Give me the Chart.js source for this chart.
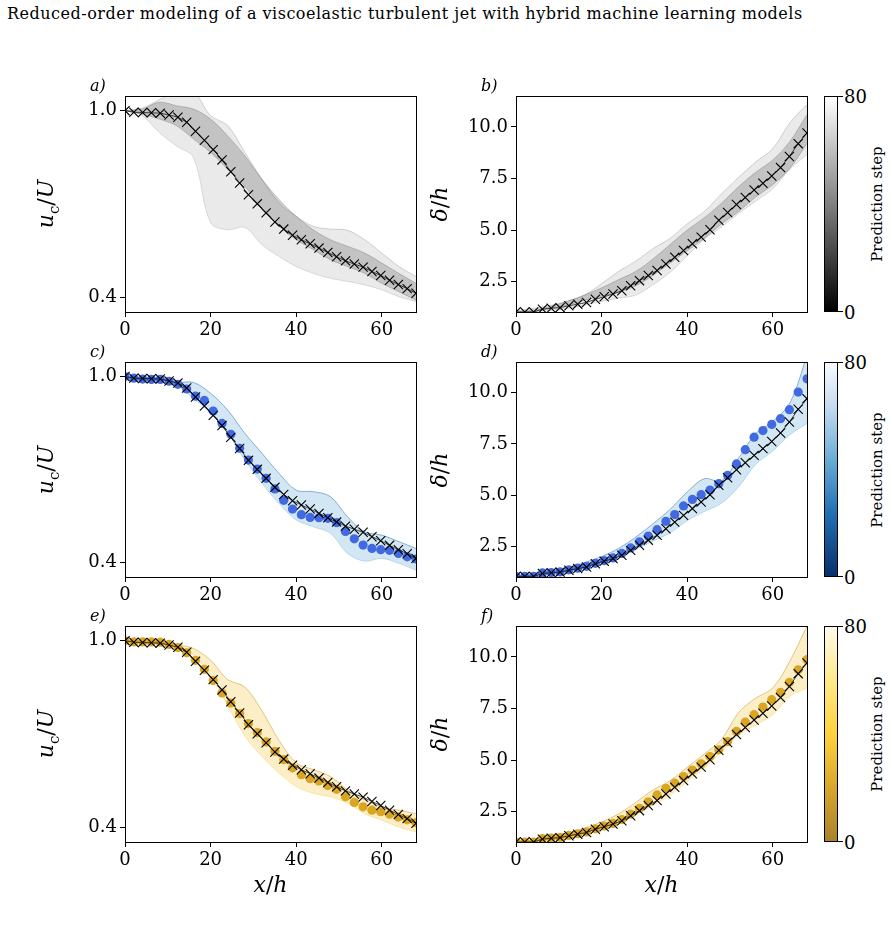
<!DOCTYPE html>
<html>
<head>
<meta charset="utf-8">
<script src="https://cdn.jsdelivr.net/npm/chart.js@4.4.0/dist/chart.umd.min.js"></script>
<style>
    body { margin: 0; width: 893px; height: 930px; background: #fff; position: relative; overflow: hidden; font-family: "DejaVu Serif", serif; color: #000; }
    canvas { position: absolute; }
    .txt { position: absolute; white-space: nowrap; }
    .title { left: 7px; top: 4px; font-size: 16px; letter-spacing: 0.5px; }
    .letter { font-style: italic; font-size: 16px; }
    .ylab { font-size: 22px; transform: translate(-50%, -50%) rotate(-90deg); }
    .xlab { font-size: 22px; transform: translateX(-50%); }
    .cbar { position: absolute; width: 12px; border: 1px solid #000; }
    .cbtick { position: absolute; width: 5px; height: 1px; background: #000; }
    .cbnum { position: absolute; font-size: 18px; transform: translateY(-50%); }
    .cblab { font-size: 15px; transform: translate(-50%, -50%) rotate(-90deg); }
</style>
</head>
<body>
<div class="txt title">Reduced-order modeling of a viscoelastic turbulent jet with hybrid machine learning models</div>
<div id="stage"></div>
<script>
// x positions of the 34 streamwise stations (x/h)
const xStations = [0, 2.06, 4.12, 6.18, 8.24, 10.3, 12.36, 14.42, 16.48, 18.55, 20.61, 22.67, 24.73, 26.79, 28.85, 30.91, 32.97,
    35.03, 37.09, 39.15, 41.21, 43.27, 45.33, 47.39, 49.45, 51.52, 53.58, 55.64, 57.7, 59.76, 61.82, 63.88, 65.94, 68.0];

// centreline velocity u_c/U
const ucTruth = [1.0, 0.995, 0.994, 0.993, 0.992, 0.986, 0.979, 0.963, 0.934, 0.905, 0.875, 0.842, 0.804, 0.768, 0.730, 0.701, 0.672,
    0.643, 0.620, 0.600, 0.586, 0.573, 0.559, 0.545, 0.531, 0.518, 0.508, 0.498, 0.484, 0.471, 0.456, 0.442, 0.429, 0.414];
const ucBlue = [1.0, 0.995, 0.992, 0.991, 0.991, 0.985, 0.975, 0.960, 0.937, 0.923, 0.889, 0.849, 0.814, 0.769, 0.731, 0.702, 0.672,
    0.638, 0.601, 0.573, 0.555, 0.546, 0.545, 0.543, 0.529, 0.501, 0.477, 0.457, 0.446, 0.442, 0.440, 0.430, 0.419, 0.412];
const ucGold = [1.0, 0.996, 0.996, 0.996, 0.995, 0.988, 0.978, 0.961, 0.937, 0.908, 0.872, 0.832, 0.800, 0.766, 0.734, 0.705, 0.675,
    0.645, 0.618, 0.592, 0.570, 0.557, 0.550, 0.535, 0.523, 0.499, 0.481, 0.467, 0.456, 0.451, 0.443, 0.434, 0.425, 0.416];

// jet half-width delta/h
const deltaTruth = [1.03, 1.03, 1.03, 1.17, 1.21, 1.24, 1.33, 1.41, 1.49, 1.65, 1.77, 1.90, 2.06, 2.30, 2.55, 2.80, 3.04,
    3.36, 3.68, 4.01, 4.34, 4.66, 5.02, 5.48, 5.85, 6.24, 6.58, 6.94, 7.27, 7.62, 8.03, 8.57, 9.19, 9.71];
const deltaBlue = [1.03, 1.03, 1.03, 1.20, 1.22, 1.25, 1.35, 1.43, 1.52, 1.67, 1.80, 1.93, 2.15, 2.42, 2.72, 3.00, 3.31,
    3.72, 4.05, 4.47, 4.79, 5.02, 5.25, 5.56, 5.96, 6.52, 7.22, 7.83, 8.15, 8.45, 8.73, 9.17, 10.03, 10.68];
const deltaGold = [1.03, 1.03, 1.03, 1.20, 1.22, 1.25, 1.35, 1.43, 1.52, 1.67, 1.80, 1.93, 2.12, 2.38, 2.66, 2.98, 3.31,
    3.63, 3.88, 4.20, 4.52, 4.82, 5.17, 5.50, 5.90, 6.39, 6.84, 7.20, 7.57, 7.93, 8.28, 8.77, 9.38, 9.87];

// envelopes of the prediction ensembles, sampled every 4 h
const envX = [0, 4, 8, 12, 16, 20, 24, 28, 32, 36, 40, 44, 48, 52, 56, 60, 64, 68];
const aUp = [1.0, 1.008, 1.035, 1.06, 1.06, 0.984, 0.952, 0.866, 0.78, 0.704, 0.661, 0.629, 0.62, 0.616, 0.586, 0.543, 0.5, 0.468];
const aLo = [1.0, 0.984, 0.93, 0.887, 0.849, 0.64, 0.618, 0.625, 0.57, 0.532, 0.5, 0.478, 0.462, 0.452, 0.441, 0.425, 0.403, 0.387];
const aCoreUp = [1.0, 1.005, 1.027, 1.016, 1.005, 0.973, 0.919, 0.855, 0.78, 0.715, 0.661, 0.618, 0.586, 0.565, 0.543, 0.511, 0.478, 0.446];
const aCoreLo = [1.0, 0.989, 0.973, 0.952, 0.909, 0.866, 0.812, 0.758, 0.683, 0.629, 0.586, 0.554, 0.522, 0.5, 0.478, 0.446, 0.419, 0.392];
const bUp = [1.1, 1.2, 1.35, 1.55, 1.85, 2.4, 3.0, 3.5, 4.1, 4.6, 5.3, 5.9, 6.75, 7.55, 8.3, 8.95, 10.2, 11.1];
const bLo = [1.02, 1.05, 1.1, 1.2, 1.35, 1.55, 1.7, 1.85, 2.35, 2.95, 3.75, 4.55, 5.15, 5.8, 6.4, 7.0, 7.95, 8.66];
const bCoreUp = [1.05, 1.12, 1.3, 1.55, 1.85, 2.2, 2.6, 3.0, 3.6, 4.3, 5.0, 5.6, 6.3, 7.1, 7.8, 8.4, 9.3, 10.6];
const bCoreLo = [1.0, 1.05, 1.2, 1.35, 1.6, 1.8, 2.0, 2.3, 2.8, 3.4, 4.0, 4.6, 5.3, 5.9, 6.6, 7.2, 8.0, 9.2];
const cUp = [1.0, 0.995, 0.992, 0.981, 0.981, 0.946, 0.892, 0.817, 0.753, 0.688, 0.634, 0.629, 0.613, 0.548, 0.5, 0.489, 0.468, 0.446];
const cLo = [1.0, 0.995, 0.992, 0.973, 0.93, 0.882, 0.817, 0.731, 0.656, 0.591, 0.538, 0.516, 0.495, 0.43, 0.405, 0.414, 0.398, 0.376];
const dUp = [1.06, 1.1, 1.3, 1.45, 1.7, 2.0, 2.4, 2.95, 3.6, 4.3, 5.15, 5.8, 5.7, 6.8, 8.0, 8.6, 9.5, 11.8];
const dLo = [1.0, 1.02, 1.18, 1.3, 1.5, 1.75, 2.0, 2.35, 2.75, 3.15, 3.75, 4.2, 4.6, 5.4, 6.5, 7.15, 7.95, 8.5];
const eUp = [1.0, 0.996, 0.995, 0.986, 0.975, 0.937, 0.875, 0.851, 0.775, 0.68, 0.608, 0.586, 0.564, 0.521, 0.489, 0.467, 0.456, 0.445];
const eLo = [1.0, 0.996, 0.995, 0.984, 0.954, 0.889, 0.791, 0.694, 0.629, 0.575, 0.532, 0.51, 0.499, 0.478, 0.445, 0.424, 0.402, 0.386];
const fUp = [1.06, 1.1, 1.3, 1.45, 1.7, 2.0, 2.4, 2.95, 3.55, 4.0, 4.65, 5.3, 6.0, 7.3, 8.0, 8.5, 9.8, 11.5];
const fLo = [1.0, 1.02, 1.18, 1.3, 1.5, 1.75, 2.0, 2.35, 2.8, 3.3, 3.95, 4.6, 5.4, 6.2, 6.7, 7.2, 8.1, 8.5];

const xTicks = [0, 20, 40, 60];
const ucTicks = [0.4, 1.0];
const deltaTicks = [2.5, 5.0, 7.5, 10.0];
const colorbarTicks = [0, 80];

// layout (pixels)
const rows = [[96, 312], [362, 577], [626, 842]];
const cols = [[125, 416], [516, 807]];
const AXW = 70, AXH = 35, PADT = 10, PADR = 8;
const stage = document.getElementById('stage');

const frame = {
    id: 'frame',
    afterDraw(chart) {
        const a = chart.chartArea;
        const ctx = chart.ctx;
        ctx.save();
        ctx.strokeStyle = '#000';
        ctx.lineWidth = 1;
        ctx.strokeRect(Math.round(a.left) + 0.5, Math.round(a.top) + 0.5, Math.round(a.right - a.left), Math.round(a.bottom - a.top));
        ctx.restore();
    }
};

function pts(xs, ys) {
    return xs.map((x, i) => ({ x: x, y: ys[i] }));
}

function bandSets(up, lo, fillColor, upColor, loColor, order) {
    return [
        { data: pts(envX, up), fill: '+1', backgroundColor: fillColor, borderColor: upColor, borderWidth: 1,
          pointRadius: 0, tension: 0.35, order: order },
        { data: pts(envX, lo), fill: false, borderColor: loColor, borderWidth: 1,
          pointRadius: 0, tension: 0.35, order: order + 1 }
    ];
}

function addText(cls, html, left, top) {
    const d = document.createElement('div');
    d.className = 'txt ' + cls;
    d.innerHTML = html;
    d.style.left = left + 'px';
    d.style.top = top + 'px';
    stage.appendChild(d);
    return d;
}

// keep the plot box exactly where it belongs: no extra room for edge labels
function noPad(s) {
    s.paddingTop = 0;
    s.paddingBottom = 0;
    s.paddingLeft = 0;
    s.paddingRight = 0;
}

function makePanel(row, col, cfg) {
    const [top, bottom] = rows[row];
    const [left, right] = cols[col];
    const canvas = document.createElement('canvas');
    const w = right - left + AXW + PADR;
    const h = bottom - top + PADT + AXH;
    canvas.width = w;
    canvas.height = h;
    canvas.style.left = (left - AXW) + 'px';
    canvas.style.top = (top - PADT) + 'px';
    canvas.style.width = w + 'px';
    canvas.style.height = h + 'px';
    stage.appendChild(canvas);

    const datasets = [];
    datasets.push({ data: pts(xStations, cfg.truth), borderColor: '#000', borderWidth: 0.7, pointStyle: 'crossRot',
        pointRadius: 6.5, pointBorderWidth: 1.1, pointBorderColor: '#000', pointBackgroundColor: '#000', fill: false, order: 0 });
    if (cfg.dots) {
        datasets.push({ data: pts(xStations, cfg.dots), showLine: false, pointRadius: 4.6, borderWidth: 0,
            pointBackgroundColor: cfg.dotColor, backgroundColor: cfg.dotColor, order: 1 });
    }
    cfg.bands.forEach(b => datasets.push(...b));

    const tickFont = { family: "'DejaVu Serif'", size: 18 };
    new Chart(canvas.getContext('2d'), {
        type: 'line',
        data: { datasets: datasets },
        options: {
            responsive: false,
            animation: false,
            devicePixelRatio: 1,
            layout: { padding: { top: PADT, right: PADR, left: 0, bottom: 0 } },
            plugins: { legend: { display: false }, tooltip: { enabled: false } },
            scales: {
                x: {
                    type: 'linear', min: 0, max: 68,
                    afterFit: s => { s.height = AXH; noPad(s); },
                    afterBuildTicks: s => { s.ticks = xTicks.map(v => ({ value: v })); },
                    ticks: { font: tickFont, color: '#000', padding: 3, maxRotation: 0, callback: v => String(v) },
                    grid: { drawOnChartArea: false, drawTicks: true, tickLength: 5, tickColor: '#000' },
                    border: { display: true, color: '#000', width: 1 }
                },
                y: {
                    type: 'linear', min: cfg.ymin, max: cfg.ymax,
                    afterFit: s => { s.width = AXW; noPad(s); },
                    afterBuildTicks: s => { s.ticks = cfg.yTicks.map(v => ({ value: v })); },
                    ticks: { font: tickFont, color: '#000', padding: 3, callback: v => v.toFixed(1) },
                    grid: { drawOnChartArea: false, drawTicks: true, tickLength: 5, tickColor: '#000' },
                    border: { display: true, color: '#000', width: 1 }
                }
            }
        },
        plugins: [frame]
    });

    addText('letter', cfg.letter, left - 35, top - 20);
    addText('ylab', cfg.ylabel, left - 77, (top + bottom) / 2);
    if (row === 2) {
        addText('xlab', '<i>x</i>/<i>h</i>', (left + right) / 2, bottom + 30);
    }
}

function makeColorbar(row, gradient) {
    const [top, bottom] = rows[row];
    const bar = document.createElement('div');
    bar.className = 'cbar';
    bar.style.left = '824px';
    bar.style.top = top + 'px';
    bar.style.height = (bottom - top - 2) + 'px';
    bar.style.background = gradient;
    stage.appendChild(bar);
    colorbarTicks.forEach(v => {
        const y = bottom - (v / 80) * (bottom - top);
        const t = document.createElement('div');
        t.className = 'cbtick';
        t.style.left = '838px';
        t.style.top = (y - (v === 80 ? 0 : 1)) + 'px';
        stage.appendChild(t);
        addText('cbnum', String(v), 844, y);
    });
    addText('cblab', 'Prediction step', 877, (top + bottom) / 2);
}

const grayFill = 'rgba(60,60,60,0.11)', grayCore = 'rgba(40,40,40,0.2)';
const blueFill = 'rgba(107,174,214,0.3)', goldFill = 'rgba(245,200,70,0.3)';
const ucLabel = '<i>u</i><sub style="font-size:15px">c</sub>/<i>U</i>';
const deltaLabel = '<i>δ</i>/<i>h</i>';

makePanel(0, 0, { letter: 'a)', ylabel: ucLabel, truth: ucTruth,
    ymin: 0.354, ymax: 1.047, yTicks: ucTicks,
    bands: [bandSets(aCoreUp, aCoreLo, grayCore, 'rgba(90,90,90,0.3)', 'rgba(90,90,90,0.3)', 2),
            bandSets(aUp, aLo, grayFill, 'rgba(120,120,120,0.3)', 'rgba(160,160,160,0.3)', 4)] });
makePanel(0, 1, { letter: 'b)', ylabel: deltaLabel, truth: deltaTruth,
    ymin: 1.03, ymax: 11.5, yTicks: deltaTicks,
    bands: [bandSets(bCoreUp, bCoreLo, grayCore, 'rgba(90,90,90,0.3)', 'rgba(90,90,90,0.3)', 2),
            bandSets(bUp, bLo, grayFill, 'rgba(120,120,120,0.3)', 'rgba(160,160,160,0.3)', 4)] });
makePanel(1, 0, { letter: 'c)', ylabel: ucLabel, truth: ucTruth,
    dots: ucBlue, dotColor: '#4169e1', ymin: 0.354, ymax: 1.047, yTicks: ucTicks,
    bands: [bandSets(cUp, cLo, blueFill, 'rgba(50,120,180,0.55)', 'rgba(150,200,230,0.55)', 2)] });
makePanel(1, 1, { letter: 'd)', ylabel: deltaLabel, truth: deltaTruth,
    dots: deltaBlue, dotColor: '#4169e1', ymin: 1.0, ymax: 11.5, yTicks: deltaTicks,
    bands: [bandSets(dUp, dLo, blueFill, 'rgba(50,120,180,0.55)', 'rgba(150,200,230,0.55)', 2)] });
makePanel(2, 0, { letter: 'e)', ylabel: ucLabel, truth: ucTruth,
    dots: ucGold, dotColor: '#daa520', ymin: 0.354, ymax: 1.047, yTicks: ucTicks,
    bands: [bandSets(eUp, eLo, goldFill, 'rgba(200,160,50,0.55)', 'rgba(250,220,120,0.55)', 2)] });
makePanel(2, 1, { letter: 'f)', ylabel: deltaLabel, truth: deltaTruth,
    dots: deltaGold, dotColor: '#daa520', ymin: 1.03, ymax: 11.5, yTicks: deltaTicks,
    bands: [bandSets(fUp, fLo, goldFill, 'rgba(200,160,50,0.55)', 'rgba(250,220,120,0.55)', 2)] });

makeColorbar(0, 'linear-gradient(to top, #000 0%, #808080 50%, #fff 100%)');
makeColorbar(1, 'linear-gradient(to top, #08306b 0%, #2171b5 30%, #6baed6 55%, #c6dbef 80%, #f7fbff 100%)');
makeColorbar(2, 'linear-gradient(to top, #a8832a 0%, #d9a62c 25%, #ffd23c 50%, #ffe98a 75%, #fffbea 100%)');
</script>
</body>
</html>
